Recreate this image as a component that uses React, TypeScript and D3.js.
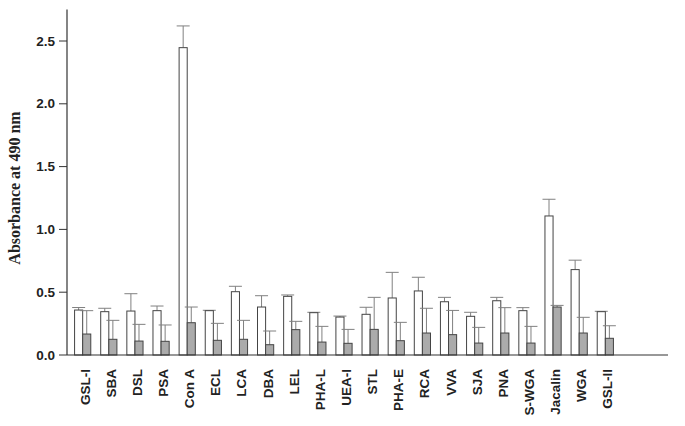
import * as d3 from 'd3';

// lectin names (x categories)
const lectins = [
  'GSL-I', 'SBA', 'DSL', 'PSA', 'Con A', 'ECL', 'LCA', 'DBA', 'LEL', 'PHA-L',
  'UEA-I', 'STL', 'PHA-E', 'RCA', 'VVA', 'SJA', 'PNA', 'S-WGA', 'Jacalin', 'WGA', 'GSL-II',
];

// open bars
const openMeans = [
  0.358, 0.345, 0.35, 0.353, 2.447, 0.353, 0.504, 0.382, 0.467, 0.337,
  0.302, 0.324, 0.454, 0.51, 0.424, 0.308, 0.432, 0.353, 1.107, 0.68, 0.345,
];
const openErr = [
  0.02, 0.027, 0.138, 0.037, 0.173, 0.003, 0.043, 0.09, 0.011, 0.003,
  0.008, 0.056, 0.204, 0.109, 0.035, 0.032, 0.027, 0.024, 0.133, 0.075, 0.003,
];

// grey bars
const greyMeans = [
  0.167, 0.125, 0.111, 0.109, 0.257, 0.117, 0.125, 0.082, 0.202, 0.103,
  0.093, 0.204, 0.114, 0.175, 0.162, 0.095, 0.175, 0.095, 0.382, 0.175, 0.133,
];
const greyErr = [
  0.186, 0.151, 0.133, 0.13, 0.125, 0.135, 0.151, 0.109, 0.066, 0.125,
  0.111, 0.255, 0.146, 0.197, 0.193, 0.125, 0.202, 0.133, 0.013, 0.125, 0.1,
];

const yTicks = [0, 0.5, 1.0, 1.5, 2.0, 2.5];

const width = 685;
const height = 426;
const axisX = 67;
const axisEnd = 668;
const capW = 13;

export default function App() {
  const x = d3.scaleBand<string>()
    .domain(lectins)
    .range([axisX, 621])
    .paddingInner(0.38)
    .paddingOuter(0.29);

  const sub = d3.scaleBand<string>()
    .domain(['open', 'grey'])
    .range([0, x.bandwidth()]);

  const y = d3.scaleLinear().domain([0, 2.5]).range([355, 41]);

  const bars = lectins.flatMap((name, i) => [
    { name, key: 'open', v: openMeans[i], e: openErr[i], fill: '#ffffff' },
    { name, key: 'grey', v: greyMeans[i], e: greyErr[i], fill: '#ababab' },
  ]);

  return (
    <svg width={width} height={height} style={{ position: 'absolute', left: 0, top: 0 }}>
      <rect width={width} height={height} fill="#fff" />

      {/* bars and error bars */}
      {bars.map((b) => {
        const bx = (x(b.name) as number) + (sub(b.key) as number);
        const bw = sub.bandwidth();
        const cx = bx + bw / 2;
        const top = y(b.v);
        const cap = y(b.v + b.e);
        return (
          <g key={b.name + b.key}>
            <line x1={cx} x2={cx} y1={top} y2={cap} stroke="#808080" strokeWidth={1} />
            <line x1={cx - capW / 2} x2={cx + capW / 2} y1={cap} y2={cap} stroke="#808080" strokeWidth={1} />
            <rect x={bx} y={top} width={bw} height={y(0) - top} fill={b.fill} stroke="#444" strokeWidth={1} />
          </g>
        );
      })}

      {/* axes */}
      <line x1={axisX} x2={axisX} y1={y(0)} y2={y(2.75)} stroke="#333" strokeWidth={1.2} />
      <line x1={axisX} x2={axisEnd} y1={y(0)} y2={y(0)} stroke="#333" strokeWidth={1.2} />
      {yTicks.map((t) => (
        <g key={t}>
          <line x1={axisX - 8} x2={axisX} y1={y(t)} y2={y(t)} stroke="#333" strokeWidth={1} />
          <text
            x={axisX - 12}
            y={y(t)}
            textAnchor="end"
            dominantBaseline="central"
            fontFamily="Liberation Sans, Arial, sans-serif"
            fontWeight="bold"
            fontSize={13.5}
            fill="#222"
          >
            {t.toFixed(1)}
          </text>
        </g>
      ))}

      <text
        transform={`translate(20,188) rotate(-90)`}
        textAnchor="middle"
        fontFamily="Liberation Serif, Times New Roman, serif"
        fontWeight="bold"
        fontSize={16}
        fill="#222"
      >
        Absorbance at 490 nm
      </text>

      {/* category labels */}
      {lectins.map((name) => {
        const cx = (x(name) as number) + x.bandwidth() / 2 + 7;
        return (
          <text
            key={name}
            transform={`translate(${cx},369) rotate(-90)`}
            textAnchor="end"
            fontFamily="Liberation Sans, Arial, sans-serif"
            fontWeight="bold"
            fontSize={13.5}
            fill="#222"
          >
            {name}
          </text>
        );
      })}
    </svg>
  );
}
